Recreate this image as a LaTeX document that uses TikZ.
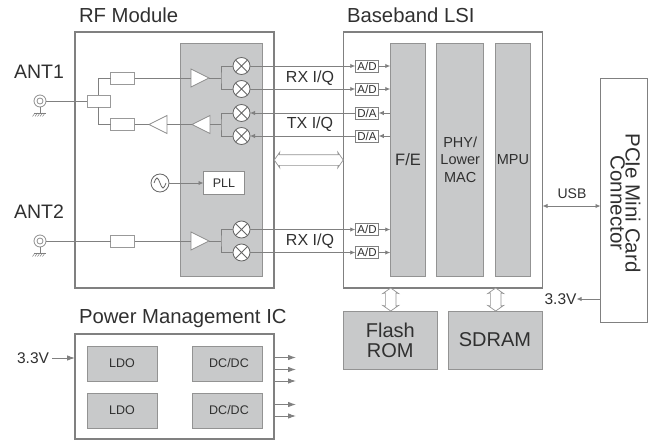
\documentclass[tikz,border=0pt]{standalone}
\usepackage{fontspec}
\setmainfont{Liberation Sans}
\setsansfont{Liberation Sans}
\usetikzlibrary{arrows.meta,positioning,shapes.geometric,shapes.arrows,calc}
\definecolor{rfgray}{HTML}{C8C9CA}
\definecolor{rfline}{HTML}{808080}
\definecolor{rftext}{HTML}{303030}

\begin{document}
\begin{tikzpicture}[
    x=1pt, y=-1pt,
    font=\sffamily,
    text=rftext,
    every node/.style={inner sep=0pt, outer sep=0pt},
    frame/.style={draw=rfline, line width=1.4pt, fill=white},
    block/.style={draw=rfline!85, line width=0.9pt, fill=rfgray, align=center},
    filterbox/.style={draw=rfline!80, line width=0.8pt, fill=white, minimum width=24pt, minimum height=12pt},
    conv/.style={draw=rfline, line width=0.7pt, fill=white, minimum width=23.5pt, minimum height=12pt, font=\fontsize{11.5}{12}\selectfont},
    mixer/.style={circle, draw=rfline!80!black, line width=0.8pt, fill=white, minimum size=17pt,
        path picture={\draw[rfline!80!black, line width=0.8pt] (path picture bounding box.north west) -- (path picture bounding box.south east)
            (path picture bounding box.north east) -- (path picture bounding box.south west);}},
    amp/.style={isosceles triangle, isosceles triangle stretches, draw=rfline!90, line width=0.8pt, fill=white, minimum width=18pt, minimum height=18pt, anchor=apex},
    antenna/.style={circle, draw=rfline!90, line width=0.8pt, minimum size=12pt,
        path picture={\draw[rfline!90, line width=0.8pt] (path picture bounding box.center) circle (3pt);}},
    wire/.style={draw=rfline, line width=0.9pt},
    arrow/.style={wire, -{Latex[length=5pt, width=4.5pt]}},
    powerarrow/.style={wire, -{Latex[length=8pt, width=5.5pt]}},
    biarrow/.style={wire, {Latex[length=5pt, width=4.5pt]}-{Latex[length=5pt, width=4.5pt]}},
    hollow/.style={double arrow, draw=rfline!85, line width=0.7pt, fill=white, inner ysep=5pt, minimum width=15pt, double arrow head extend=2.5pt, double arrow head indent=0.5pt, double arrow tip angle=110},
    title/.style={font=\fontsize{20.3}{22}\selectfont},
    antlabel/.style={font=\fontsize{19.5}{22}\selectfont},
    sig/.style={font=\fontsize{16}{17}\selectfont},
    volt/.style={font=\fontsize{15.5}{17}\selectfont},
    regbox/.style={block, minimum width=70pt, minimum height=35pt, font=\fontsize{12.5}{14}\selectfont}
]
\useasboundingbox (0,0) rectangle (653,441);

\node[frame, minimum width=199pt, minimum height=256pt] (rf) at (174.5,160) {};
\node[frame, minimum width=199pt, minimum height=256pt] (bb) at (443,160) {};
\node[frame, minimum width=199pt, minimum height=105pt] (pm) at (174.5,386.5) {};
\node[frame, minimum width=47pt, minimum height=244.5pt] (pcie) at (624,200.5) {};

\node[title, anchor=west] (rftitle) at (79,15) {RF Module};
\node[title, anchor=west] (bbtitle) at (347,15) {Baseband LSI};
\node[title, anchor=west] (pmtitle) at (79,319) {Power Management IC};
\node[antlabel, anchor=west] (ant1) at (14,72) {ANT1};
\node[antlabel, anchor=west] (ant2) at (14,212) {ANT2};

\node[block, minimum width=81.5pt, minimum height=233pt] (rfcore) at (221.5,159.5) {};
\node[block, minimum width=35.5pt, minimum height=233pt, font=\fontsize{16.5}{17}\selectfont] (fe) at (408,159.5) {F/E};
\node[block, minimum width=47pt, minimum height=233pt, font=\fontsize{14.5}{17.5}\selectfont] (phy) at (460.2,159.5) {PHY/\\Lower\\MAC};
\node[block, minimum width=35.5pt, minimum height=233pt, font=\fontsize{14.5}{17}\selectfont] (mpu) at (513,159.5) {MPU};
\node[block, minimum width=94pt, minimum height=58pt, font=\fontsize{20}{20}\selectfont] (flash) at (390.3,340) {Flash\\ROM};
\node[block, minimum width=94pt, minimum height=58pt, font=\fontsize{20}{20}\selectfont] (sdram) at (495,340) {SDRAM};

\node[mixer] (mixa) at (241.5,66) {};
\node[mixer] (mixb) at (241.5,89) {};
\node[mixer] (mixc) at (241.5,113) {};
\node[mixer] (mixd) at (241.5,136) {};
\node[mixer] (mixe) at (241.5,229.5) {};
\node[mixer] (mixf) at (241.5,252.5) {};

\node[amp] (rxamp) at (209,78) {};
\node[amp] (rxampb) at (209,241) {};
\node[amp, shape border rotate=180] (txamp) at (192,124.5) {};
\node[amp, shape border rotate=180] (txout) at (149,124.5) {};

\node[filterbox] (filta) at (122.5,78) {};
\node[filterbox] (filtb) at (122.5,124.5) {};
\node[filterbox] (filtc) at (122.5,241) {};
\node[filterbox, minimum width=23.5pt] (split) at (98.7,101) {};

\node[antenna] (anta) at (40,101) {};
\node[antenna] (antb) at (40,241) {};
\coordinate (gnda) at (40,113);
\coordinate (gndb) at (40,253);

\node[circle, draw=rfline!80!black, line width=0.8pt, fill=white, minimum size=18pt] (osc) at (160,183) {};
\node[draw=rfline!90, line width=0.8pt, fill=white, minimum width=41pt, minimum height=23.5pt, font=\fontsize{12.5}{14}\selectfont] (pll) at (224,183) {PLL};
\draw[rfline!80!black, line width=0.8pt] ($(osc.center)+(-6,0)$) sin ++(3,-5) cos ++(3,5) sin ++(3,5) cos ++(3,-5);

\node[conv] (ada) at (367,66) {A/D};
\node[conv] (adb) at (367,89) {A/D};
\node[conv] (dac) at (367,113) {D/A};
\node[conv] (dad) at (367,136) {D/A};
\node[conv] (ade) at (367,229.5) {A/D};
\node[conv] (adf) at (367,252.5) {A/D};

\node[sig] (rxa) at (310,78) {RX I/Q};
\node[sig] (txa) at (310,124) {TX I/Q};
\node[sig] (rxb) at (310,241) {RX I/Q};

\foreach \ant/\gnd in {anta/gnda, antb/gndb} {
    \draw[wire, line width=0.7pt] (\ant) -- (\gnd);
    \draw[wire, line width=0.7pt] ($(\gnd)+(-6,0)$) -- ($(\gnd)+(6,0)$);
    \foreach \dx in {-5,-2.5,0,2.5,5}
        \draw[wire, line width=0.5pt] ($(\gnd)+(\dx,0)$) -- ++(-2.5,3.5);
}

\draw[wire] (anta) -- (split);
\draw[wire] (split.north) |- (filta);
\draw[wire] (split.south) |- (filtb);
\draw[wire] (filta) -- (rxamp.west);
\draw[wire] (filtb) -- (txout.apex);
\draw[wire] (txout.east) -- (txamp.apex);
\draw[wire] (antb) -- (filtc);
\draw[wire] (filtc) -- (rxampb.west);

\coordinate (joina) at (221,78);
\coordinate (joinb) at (221,124.5);
\coordinate (joinc) at (221,241);
\draw[wire] (rxamp.apex) -- (joina);
\draw[wire] (txamp.east) -- (joinb);
\draw[wire] (rxampb.apex) -- (joinc);
\draw[wire] (mixa) -| (joina) |- (mixb);
\draw[wire] (mixc) -| (joinb) |- (mixd);
\draw[wire] (mixe) -| (joinc) |- (mixf);

\draw[arrow] (osc) -- (pll);

\foreach \mix/\con in {mixa/ada, mixb/adb, mixe/ade, mixf/adf} {
    \draw[arrow] (\mix) -- (\con);
    \draw[arrow] (\con) -- (\con -| fe.west);
}
\foreach \mix/\con in {mixc/dac, mixd/dad} {
    \draw[arrow] (\con) -- (\mix);
    \draw[arrow] (\con -| fe.west) -- (\con);
}

\node[hollow, minimum height=69pt] (bus) at ($(rf.east)!0.5!(bb.west)$) {};
\node[hollow, rotate=90, minimum height=23pt] (busflash) at (390.7,299.5) {};
\node[hollow, rotate=90, minimum height=23pt] (bussdram) at (495.7,299.5) {};

\coordinate (usbend) at (542.5,206);
\draw[biarrow] (usbend) -- (usbend -| pcie.west);
\node[font=\fontsize{14}{16}\selectfont] (usb) at (572,194) {USB};

\node[volt, anchor=east] (pcievolt) at (576.5,299) {3.3V};
\draw[arrow] (pcievolt -| pcie.west) -- (pcievolt);
\node[rotate=-90, align=center, font=\fontsize{20.5}{15}\selectfont] (pcietext) at (625.5,203) {PCIe Mini Card\\Connector};

\node[regbox] (ldoa) at (122,363.5) {LDO};
\node[regbox] (ldob) at (122,410.5) {LDO};
\node[regbox] (dcdca) at (227,363.5) {\kern4pt DC/DC};
\node[regbox] (dcdcb) at (227,410.5) {\kern4pt DC/DC};

\node[volt, anchor=east] (pmvolt) at (49,358) {3.3V};
\coordinate (pmin) at (52,358);
\draw[powerarrow] (pmin) -- (pmin -| pm.west);
\foreach \y in {357.5,369.5,381,404.5,416}
    \draw[powerarrow] (pm.east |- 0,\y) -- ++(22,0);
\end{tikzpicture}
\end{document}
